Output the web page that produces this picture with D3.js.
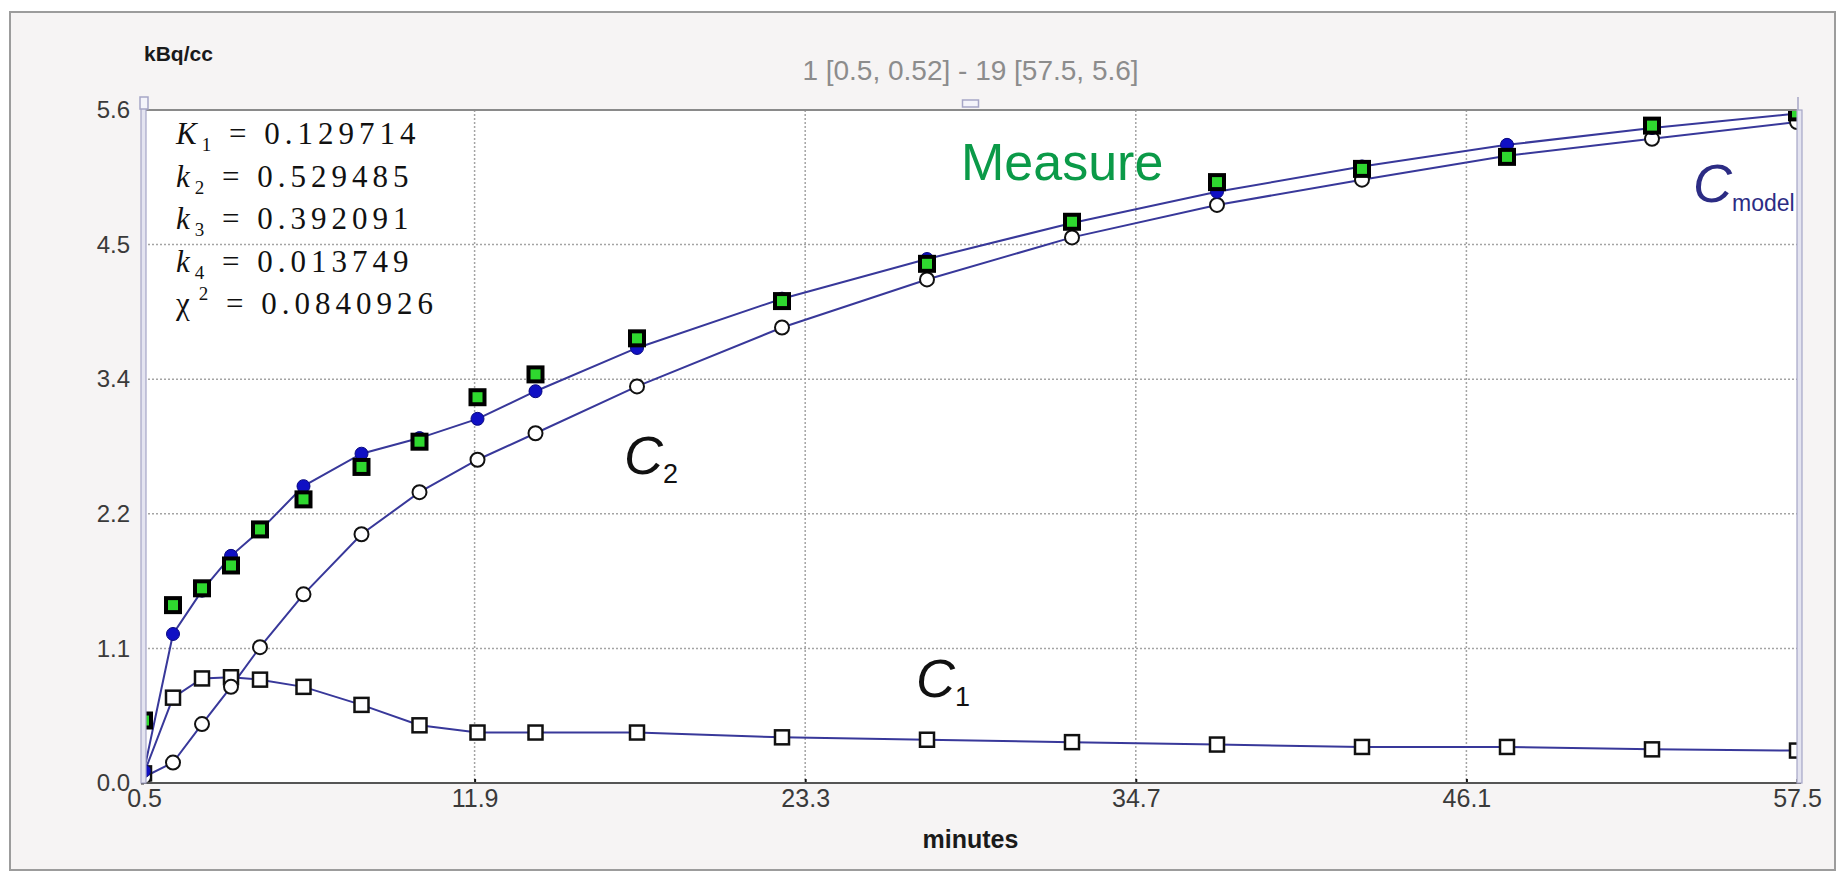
<!DOCTYPE html>
<html>
<head>
<meta charset="utf-8">
<script src="https://cdn.jsdelivr.net/npm/d3@7"></script>
<style>
  body { margin: 0; background: #ffffff; }
</style>
</head>
<body>
<div id="dataviz_tac"></div>
<script>

// ------------------- //
// DATA
// ------------------- //

// frame mid times (minutes)
var times = [0.5, 1.5, 2.5, 3.5, 4.5, 6, 8, 10, 12, 14, 17.5, 22.5, 27.5, 32.5, 37.5, 42.5, 47.5, 52.5, 57.5]

// measured tissue activity (green squares)
var measured = [0.52, 1.48, 1.62, 1.81, 2.11, 2.36, 2.63, 2.84, 3.21, 3.40, 3.70, 4.01, 4.32, 4.67, 5.00, 5.11, 5.21, 5.47, 5.58]

// fitted model curve (blue dots)
var model = [0.10, 1.24, 1.60, 1.89, 2.10, 2.47, 2.74, 2.87, 3.03, 3.26, 3.62, 4.03, 4.36, 4.66, 4.92, 5.13, 5.31, 5.45, 5.57]

// compartment C1 (open squares) and C2 (open circles)
var c1 = [0.08, 0.71, 0.87, 0.88, 0.86, 0.80, 0.65, 0.48, 0.42, 0.42, 0.42, 0.38, 0.36, 0.34, 0.32, 0.30, 0.30, 0.28, 0.27]
var c2 = [0.05, 0.17, 0.49, 0.80, 1.13, 1.57, 2.07, 2.42, 2.69, 2.91, 3.30, 3.79, 4.19, 4.54, 4.81, 5.02, 5.22, 5.36, 5.50]

// axis ticks
var xTicks = [0.5, 11.9, 23.3, 34.7, 46.1, 57.5]
var yTicks = [0, 1.12, 2.24, 3.36, 4.48, 5.6]
var yTickLabels = ["0.0", "1.1", "2.2", "3.4", "4.5", "5.6"]

// fit parameters
var paramSymbols = ["K", "k", "k", "k"]
var paramIndex = ["1", "2", "3", "4"]
var paramValues = ["0.129714", "0.529485", "0.392091", "0.013749"]
var chiSquare = "0.0840926"

var rangeLabel = "1 [0.5, 0.52] - 19 [57.5, 5.6]"


// ------------------- //
// SVG AND SCALES
// ------------------- //

var W = 1844, H = 875
var plot = {left: 144, right: 1797, top: 110, bottom: 783}
var sans = "'Liberation Sans', Arial, sans-serif"
var serif = "'Liberation Serif', 'Times New Roman', serif"

var svg = d3.select("#dataviz_tac")
.append("svg")
  .attr("width", W)
  .attr("height", H)
  .style("font-family", sans)

// outer panel
svg.append("rect")
    .attr("x", 10)
    .attr("y", 12)
    .attr("width", 1825)
    .attr("height", 858)
    .attr("fill", "#f6f4f4")
    .attr("stroke", "#9c9c9c")
    .attr("stroke-width", 2)

var x = d3.scaleLinear()
    .domain([0.5, 57.5])
    .range([plot.left, plot.right])

var y = d3.scaleLinear()
    .domain([0, 5.6])
    .range([plot.bottom, plot.top])

// plot background
svg.append("rect")
    .attr("x", plot.left)
    .attr("y", plot.top)
    .attr("width", plot.right - plot.left)
    .attr("height", plot.bottom - plot.top)
    .attr("fill", "#ffffff")

svg.append("clipPath")
    .attr("id", "clip")
  .append("rect")
    .attr("x", plot.left)
    .attr("y", plot.top)
    .attr("width", plot.right - plot.left)
    .attr("height", plot.bottom - plot.top)


// ------------------- //
// GRID AND AXES
// ------------------- //

svg.selectAll(".gridx")
  .data(xTicks.slice(1, -1))
  .enter()
  .append("line")
    .attr("x1", function(d){ return x(d) })
    .attr("x2", function(d){ return x(d) })
    .attr("y1", plot.top)
    .attr("y2", plot.bottom)
    .attr("stroke", "#a4a4a4")
    .attr("stroke-width", 1.5)
    .attr("stroke-dasharray", "2,2")

svg.selectAll(".gridy")
  .data(yTicks.slice(1, -1))
  .enter()
  .append("line")
    .attr("x1", plot.left)
    .attr("x2", plot.right)
    .attr("y1", function(d){ return y(d) })
    .attr("y2", function(d){ return y(d) })
    .attr("stroke", "#a4a4a4")
    .attr("stroke-width", 1.5)
    .attr("stroke-dasharray", "2,2")

var xAxis = svg.append("g")
    .attr("transform", "translate(0," + plot.bottom + ")")
    .call(d3.axisBottom(x).tickValues(xTicks).tickFormat(d3.format(".1f")).tickSize(-4).tickPadding(6))
xAxis.select(".domain").remove()
xAxis.selectAll("line").attr("stroke", "#111").attr("stroke-width", 2)
xAxis.selectAll("text")
    .style("font-family", sans)
    .style("font-size", "25px")
    .attr("fill", "#3a3a3a")

var yAxis = svg.append("g")
    .attr("transform", "translate(" + plot.left + ",0)")
    .call(d3.axisLeft(y).tickValues(yTicks).tickFormat(function(d, i){ return yTickLabels[i] }).tickSize(3).tickPadding(11))
yAxis.select(".domain").remove()
yAxis.selectAll("line").attr("stroke", "#333").attr("stroke-width", 2)
yAxis.selectAll("text")
    .style("font-family", sans)
    .style("font-size", "24px")
    .attr("fill", "#3a3a3a")


// ------------------- //
// CURVES
// ------------------- //

var marks = svg.append("g").attr("clip-path", "url(#clip)")

var lineColor = "#38389a"

function drawLine(values) {
  marks.append("path")
    .datum(values)
    .attr("fill", "none")
    .attr("stroke", lineColor)
    .attr("stroke-width", 2)
    .attr("d", d3.line()
      .x(function(d, i){ return x(times[i]) })
      .y(function(d){ return y(d) }))
}
drawLine(c1)
drawLine(c2)
drawLine(model)

// C1 open squares
marks.selectAll(".c1")
  .data(c1)
  .enter()
  .append("rect")
    .attr("x", function(d, i){ return x(times[i]) - 7 })
    .attr("y", function(d){ return y(d) - 7 })
    .attr("width", 14)
    .attr("height", 14)
    .attr("fill", "#ffffff")
    .attr("stroke", "#111")
    .attr("stroke-width", 2.5)

// C2 open circles
marks.selectAll(".c2")
  .data(c2)
  .enter()
  .append("circle")
    .attr("cx", function(d, i){ return x(times[i]) })
    .attr("cy", function(d){ return y(d) })
    .attr("r", 7)
    .attr("fill", "#ffffff")
    .attr("stroke", "#111")
    .attr("stroke-width", 2)

// model blue dots
marks.selectAll(".model")
  .data(model)
  .enter()
  .append("circle")
    .attr("cx", function(d, i){ return x(times[i]) })
    .attr("cy", function(d){ return y(d) })
    .attr("r", 6.5)
    .attr("fill", "#1010c4")
    .attr("stroke", "#0a0a80")
    .attr("stroke-width", 1)

// measured green squares
marks.selectAll(".measured")
  .data(measured)
  .enter()
  .append("rect")
    .attr("x", function(d, i){ return x(times[i]) - 7 })
    .attr("y", function(d){ return y(d) - 7 })
    .attr("width", 14)
    .attr("height", 14)
    .attr("fill", "#2fd82f")
    .attr("stroke", "#000")
    .attr("stroke-width", 4)


// ------------------- //
// FRAME AND CURSORS
// ------------------- //

svg.append("line")
    .attr("x1", plot.left).attr("x2", plot.right)
    .attr("y1", plot.top).attr("y2", plot.top)
    .attr("stroke", "#8a8a8a")
    .attr("stroke-width", 2)

svg.append("line")
    .attr("x1", plot.left).attr("x2", plot.right + 4)
    .attr("y1", plot.bottom).attr("y2", plot.bottom)
    .attr("stroke", "#555")
    .attr("stroke-width", 2)

// left range cursor
svg.append("rect")
    .attr("x", plot.left - 3)
    .attr("y", plot.top - 2)
    .attr("width", 5)
    .attr("height", plot.bottom - plot.top + 2)
    .attr("fill", "#e4e4f0")
    .attr("stroke", "#a6a6c6")
    .attr("stroke-width", 1.2)
svg.append("rect")
    .attr("x", plot.left - 4)
    .attr("y", plot.top - 13)
    .attr("width", 8)
    .attr("height", 12)
    .attr("fill", "#f4f4fa")
    .attr("stroke", "#a6a6c6")
    .attr("stroke-width", 1.5)

// right range cursor
svg.append("rect")
    .attr("x", plot.right)
    .attr("y", plot.top)
    .attr("width", 5)
    .attr("height", plot.bottom - plot.top)
    .attr("fill", "#e4e4f0")
    .attr("stroke", "#a6a6c6")
    .attr("stroke-width", 1.2)
svg.append("line")
    .attr("x1", plot.right + 1).attr("x2", plot.right + 1)
    .attr("y1", plot.top - 13).attr("y2", plot.top)
    .attr("stroke", "#a6a6c6")
    .attr("stroke-width", 1.5)

// top center handle
svg.append("rect")
    .attr("x", (plot.left + plot.right) / 2 - 8)
    .attr("y", plot.top - 10)
    .attr("width", 16)
    .attr("height", 7)
    .attr("fill", "#f4f4fa")
    .attr("stroke", "#a6a6c6")
    .attr("stroke-width", 1.5)


// ------------------- //
// LABELS
// ------------------- //

svg.append("text")
    .attr("x", plot.left)
    .attr("y", 61)
    .text("kBq/cc")
    .style("font-size", "21px")
    .style("font-weight", "bold")
    .attr("fill", "#1a1a1a")

svg.append("text")
    .attr("x", (plot.left + plot.right) / 2)
    .attr("y", 80)
    .text(rangeLabel)
    .style("font-size", "28px")
    .attr("text-anchor", "middle")
    .attr("fill", "#8c8c8c")

svg.append("text")
    .attr("x", (plot.left + plot.right) / 2)
    .attr("y", 848)
    .text("minutes")
    .style("font-size", "25px")
    .style("font-weight", "bold")
    .attr("text-anchor", "middle")
    .attr("fill", "#1a1a1a")

// parameter block
var params = svg.append("g")
    .attr("fill", "#111")

paramValues.forEach(function(v, i) {
  var t = params.append("text")
      .attr("x", 176)
      .attr("y", 144 + i * 42.5)
      .style("font-family", serif)
      .style("font-size", "31px")
      .style("letter-spacing", "5px")
  t.append("tspan").text(paramSymbols[i]).style("font-style", "italic")
  t.append("tspan").text(paramIndex[i]).style("font-size", "19px").attr("dy", 7)
  t.append("tspan").text(" = " + v).attr("dy", -7)
})
var chi = params.append("text")
    .attr("x", 176)
    .attr("y", 144 + 4 * 42.5)
    .style("font-family", serif)
    .style("font-size", "31px")
    .style("letter-spacing", "5px")
chi.append("tspan").text("\u03c7")
chi.append("tspan").text("2").style("font-size", "19px").attr("dy", -14).attr("dx", 4)
chi.append("tspan").text(" = " + chiSquare).attr("dy", 14)

// curve names
svg.append("text")
    .attr("x", 961)
    .attr("y", 180)
    .text("Measure")
    .style("font-size", "52px")
    .attr("fill", "#0b9a48")

function curveName(px, py, sub, color, subSize) {
  var t = svg.append("text")
      .attr("x", px)
      .attr("y", py)
      .attr("fill", color)
  t.append("tspan").text("C").style("font-size", "54px").style("font-style", "italic")
  t.append("tspan").text(sub).style("font-size", subSize + "px").attr("dy", 9)
}
curveName(1693, 202, "model", "#2c2c84", 23)
curveName(624, 474, "2", "#111", 27)
curveName(916, 697, "1", "#111", 27)

</script>
</body>
</html>
